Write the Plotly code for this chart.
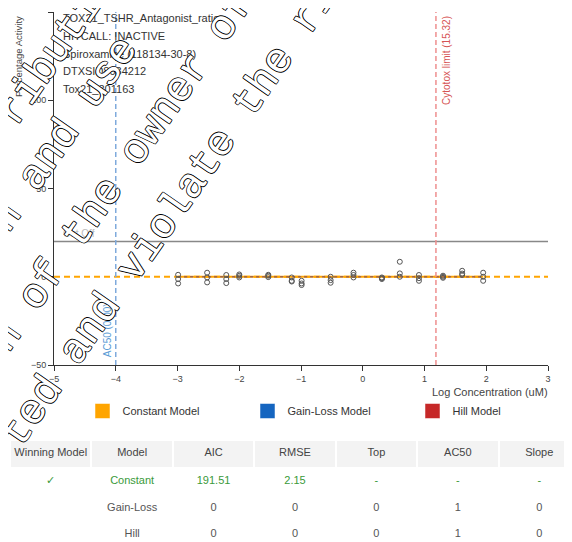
import math
import plotly.graph_objects as go

W, H = 572, 542
BODY = 8      # browser default body margin (page offset of the figure)
ML = 2        # figure left margin -> paper starts at page x = 10

# ---------------- data ----------------
log_conc = [-2.99, -2.52, -2.21, -2.00, -1.53, -1.15, -0.99, -0.52, -0.15, 0.31, 0.60, 0.91, 1.30, 1.61, 1.95]
resp_rep1 = [1.1, 2.3, 1.0, 1.3, 1.1, -0.4, -2.3, 0.0, 2.3, -0.4, 8.5, 1.0, 0.6, 3.4, 2.3]
resp_rep2 = [-1.3, -0.4, -1.3, -0.4, -0.2, -2.3, -3.8, -1.9, 1.0, -1.3, 1.9, -0.8, -0.6, 1.0, 0.0]
resp_rep3 = [-3.8, -3.2, -3.6, 0.5, 0.6, -2.7, -4.7, -3.4, -0.4, -0.8, 0.0, -2.3, 0.0, 1.8, -2.3]

constant_level = 0
gainloss_level = 0
hill_level = 0
cutoff_value = 20
ac50_log = -4
cytotox_um = 15.32

x_ticks = [-5, -4, -3, -2, -1, 0, 1, 2, 3]
y_ticks = [-50, 0, 50, 100, 150]

info_lines = ["TOX21_TSHR_Antagonist_ratio", "HITCALL: INACTIVE",
              "Spiroxamine (118134-30-8)", "DTXSID8034212", "Tox21_301163"]

legend_names = ["Constant Model", "Gain-Loss Model", "Hill Model"]
legend_colors = ["#FFA500", "#1565C0", "#C62828"]

table_header = ["Winning\u00a0Model", "Model", "AIC", "RMSE", "Top", "AC50", "Slope"]
col_winner = ["✓", "", ""]
col_model = ["Constant", "Gain-Loss", "Hill"]
col_aic = ["191.51", "0", "0"]
col_rmse = ["2.15", "0", "0"]
col_top = ["-", "0", "0"]
col_ac50 = ["-", "1", "1"]
col_slope = ["-", "0", "0"]

watermark_lines = ["ributi", "n and use", "n of the owner of", "ted and violate the ri"]
watermark_centers = [(50, 60), (64, 135), (122, 172), (170, 216)]


def px(x):
    """page pixel x -> paper fraction"""
    return (x - BODY - ML) / (W - ML)


def py(y):
    """page pixel y -> paper fraction"""
    return (H - (y - BODY)) / H


FONT = "Arial, Liberation Sans, sans-serif"
fig = go.Figure()

xs, ys = [], []
for reps in (resp_rep1, resp_rep2, resp_rep3):
    xs += log_conc
    ys += reps

fig.add_trace(go.Scatter(x=[log_conc[0], log_conc[-1]], y=[constant_level] * 2, mode="lines",
                         line=dict(color="#FFA500", width=2), showlegend=False, hoverinfo="skip"))
fig.add_trace(go.Scatter(x=[log_conc[0], log_conc[-1]], y=[gainloss_level] * 2, mode="lines",
                         line=dict(color="rgba(21,101,192,0.45)", width=1.5, dash="3px,3px"),
                         showlegend=False, hoverinfo="skip"))
fig.add_trace(go.Scatter(x=[log_conc[0], log_conc[-1]], y=[hill_level] * 2, mode="lines",
                         line=dict(color="rgba(198,40,40,0.35)", width=1.5, dash="3px,3px"),
                         showlegend=False, hoverinfo="skip"))
fig.add_trace(go.Scatter(x=xs, y=ys, mode="markers",
                         marker=dict(symbol="circle-open", size=5, color="#555",
                                     line=dict(width=1, color="#555")),
                         showlegend=False))

for name, col in zip(legend_names, legend_colors):
    fig.add_trace(go.Scatter(x=[None], y=[None], mode="markers", name=name,
                             marker=dict(symbol="square", size=15, color=col,
                                         line=dict(width=1, color="rgba(255,255,255,0.5)"))))

fig.add_trace(go.Table(
    domain=dict(x=[0, 1], y=[0, py(440)]),
    header=dict(values=table_header, fill_color="#f3f3f3", line=dict(color="white", width=2),
                align="center", height=28, font=dict(size=11, color="#444", family=FONT)),
    cells=dict(values=[col_winner, col_model, col_aic, col_rmse, col_top, col_ac50, col_slope],
               fill_color="white", line=dict(color="white", width=1), align="center", height=26.5,
               font=dict(size=11, family=FONT,
                         color=[["#3a9a3a", "#555", "#555"]] * 7)),
))

cyto_log = math.log10(cytotox_um)
shapes = [
    dict(type="line", xref="x", yref="y", x0=-5, x1=3, y0=cutoff_value, y1=cutoff_value,
         line=dict(color="#888", width=1.5)),
    dict(type="line", xref="x", yref="y", x0=-5, x1=3, y0=constant_level, y1=constant_level,
         line=dict(color="#FFA500", width=2, dash="6px,4px"), layer="below"),
    dict(type="line", xref="x", yref="y", x0=ac50_log, x1=ac50_log, y0=-50, y1=150,
         line=dict(color="#7FAADC", width=1.5, dash="5px,3px")),
    dict(type="line", xref="x", yref="y", x0=cyto_log, x1=cyto_log, y0=-50, y1=150,
         line=dict(color="#EE8F8F", width=1.5, dash="5px,3px")),
]

ann = []
for i, t in enumerate(info_lines):
    ann.append(dict(text=t, xref="paper", yref="paper", x=px(61), y=py(18 + i * 17.8),
                    xanchor="left", yanchor="middle", showarrow=False,
                    font=dict(size=11, color="#333", family=FONT)))
ann.append(dict(text="Cut Off", xref="paper", yref="paper", x=px(61), y=py(233),
                xanchor="left", yanchor="middle", showarrow=False,
                font=dict(size=10, color="#bbb", family=FONT)))
ann.append(dict(text="AC50 (0.00)", xref="x", yref="paper", x=ac50_log, y=py(359),
                xanchor="right", yanchor="bottom", xshift=-1, textangle=-90, showarrow=False,
                font=dict(size=10, color="#5B9BD5", family=FONT)))
ann.append(dict(text=f"Cytotox limit ({cytotox_um})", xref="x", yref="paper", x=cyto_log, y=py(14),
                xanchor="left", yanchor="top", xshift=3, textangle=-90, showarrow=False,
                font=dict(size=10, color="#D65454", family=FONT)))
ann.append(dict(text="Percentage Activity", xref="paper", yref="paper", x=px(18), y=py(57),
                xanchor="center", yanchor="middle", textangle=-90, showarrow=False,
                font=dict(size=9.5, color="#444", family=FONT)))
ann.append(dict(text="Log Concentration (uM)", xref="paper", yref="paper", x=px(550), y=py(392),
                xanchor="right", yanchor="middle", showarrow=False,
                font=dict(size=11, color="#444", family=FONT)))

outline = ("0.7px 0.7px 0 #000, -0.7px -0.7px 0 #000, 0.7px -0.7px 0 #000, -0.7px 0.7px 0 #000")
for t, (cx, cy) in zip(watermark_lines, watermark_centers):
    ann.append(dict(text=t, xref="paper", yref="paper", x=px(cx), y=py(cy),
                    xanchor="center", yanchor="middle", textangle=-55, showarrow=False,
                    font=dict(size=42, color="white", family="Liberation Mono, Courier New, monospace",
                              shadow=outline)))

fig.update_layout(
    width=W, height=H,
    margin=dict(l=ML, r=0, t=0, b=0, autoexpand=False),
    paper_bgcolor="white", plot_bgcolor="white",
    font=dict(family=FONT, color="#444"),
    shapes=shapes, annotations=ann,
    xaxis=dict(domain=[px(54), px(548)], range=[-5, 3], tickvals=x_ticks, showgrid=False,
               zeroline=False, showline=True, linecolor="#333", linewidth=1, ticks="outside",
               ticklen=5, tickcolor="#333", tickfont=dict(size=9, color="#444"), automargin=False),
    yaxis=dict(domain=[py(365), py(12)], range=[-50, 150], tickvals=y_ticks, showgrid=False,
               zeroline=False, showline=True, linecolor="#333", linewidth=1, ticks="outside",
               ticklen=5, tickcolor="#333", tickfont=dict(size=9, color="#444"), automargin=False),
    legend=dict(orientation="h", x=px(82.5), y=py(411), xanchor="left", yanchor="middle",
                entrywidth=120, entrywidthmode="pixels", font=dict(size=11, color="#333"),
                bgcolor="rgba(0,0,0,0)"),
    showlegend=True,
)

fig.write_html("out.html")
